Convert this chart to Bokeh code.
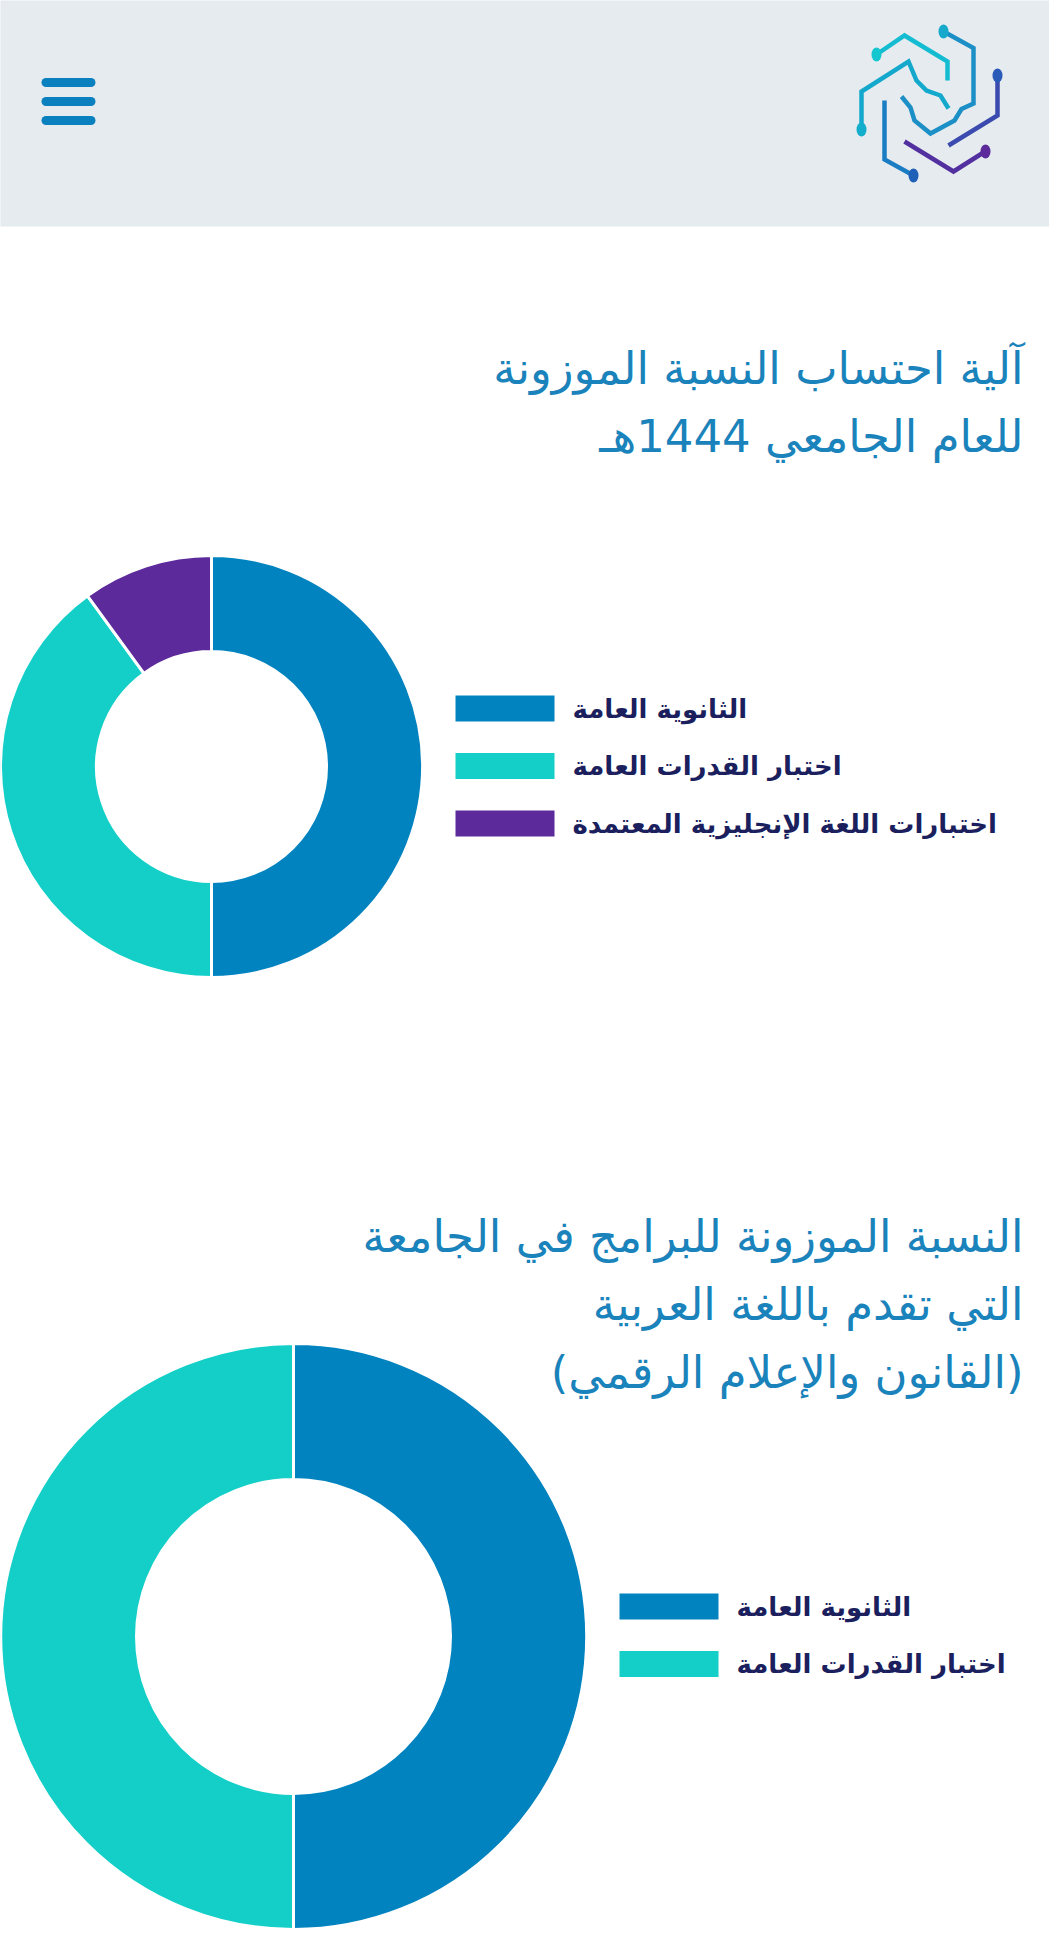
import numpy as np
from bokeh.plotting import figure
from bokeh.models import Range1d, ColumnDataSource
from bokeh.embed import file_html
from bokeh.resources import INLINE
from bokeh.core.properties import value

W, H = 1049, 1944

# ---------------- data ----------------
title1 = ["آلية احتساب النسبة الموزونة", "للعام الجامعي 1444هـ"]
labels1 = ["الثانوية العامة", "اختبار القدرات العامة", "اختبارات اللغة الإنجليزية المعتمدة"]
values1 = [50, 40, 10]

title2 = ["النسبة الموزونة للبرامج في الجامعة", "التي تقدم باللغة العربية", "(القانون والإعلام الرقمي)"]
labels2 = ["الثانوية العامة", "اختبار القدرات العامة"]
values2 = [50, 50]

palette = ["#0083bf", "#13cfc8", "#5c2a9b"]

# ---------------- style / layout ----------------
TITLE_COLOR = "#1a83bb"
LABEL_COLOR = "#1b1f5e"
HEADER_BG = "#e5ebee"
FONT = "DejaVu Sans"


def sy(y):
    return H - y


p = figure(width=W, height=H, x_range=Range1d(0, W), y_range=Range1d(0, H),
           output_backend="svg", toolbar_location=None, min_border=0,
           background_fill_color="#ffffff", border_fill_color="#ffffff")
p.axis.visible = False
p.grid.visible = False
p.outline_line_color = None

# header band
p.quad(left=[-5], right=[W + 5], bottom=[sy(226)], top=[H + 5], fill_color=HEADER_BG, line_color=None)

# hamburger icon
p.multi_line(xs=[[45.5, 90.5]] * 3, ys=[[sy(yc), sy(yc)] for yc in [82, 101, 120]],
             line_color="#0a80bf", line_width=9, line_cap="round")

# logo (decorative circuit mark)
logo_paths = [
    ([876, 904, 947, 947], [54, 35, 61, 80], "#13bcd0"),
    ([943, 973, 973, 961, 954, 930, 914, 910, 901], [31, 47.5, 103, 108.5, 120, 133, 120, 107, 96], "#1c8fc6"),
    ([861, 861, 908, 916, 926, 940, 948], [129, 91, 61, 80, 90, 95, 108], "#14a9cc"),
    ([997, 997, 948], [75, 115, 145], "#3b4aae"),
    ([884, 884, 913], [100, 159, 175], "#1a7cc2"),
    ([904, 953, 983], [141, 171, 152], "#5330a0"),
]
p.multi_line(xs=[pp[0] for pp in logo_paths], ys=[[sy(v) for v in pp[1]] for pp in logo_paths],
             line_color=[pp[2] for pp in logo_paths], line_width=4.5, line_join="miter")
dots_x = [876, 943, 861, 997, 913, 985]
dots_y = [54, 31, 129, 75, 175, 151]
dots_c = ["#13c6cf", "#16a9cc", "#14aecd", "#2a5ab8", "#1e5fb8", "#5c2a9b"]
p.ellipse(x=dots_x, y=[sy(v) for v in dots_y], width=10, height=14, fill_color=dots_c, line_color=None)


def donut(cx, cy, r_in, r_out, vals, labels, title_lines, title_y0, legend_y0):
    vals = np.asarray(vals, dtype=float)
    frac = vals / vals.sum()
    ends = np.cumsum(frac)
    starts = ends - frac
    start_ang = np.pi / 2 - 2 * np.pi * starts
    end_ang = np.pi / 2 - 2 * np.pi * ends
    cols = palette[:len(vals)]
    src = ColumnDataSource(dict(start=start_ang, end=end_ang, color=cols))
    p.annular_wedge(x=cx, y=sy(cy), inner_radius=r_in, outer_radius=r_out,
                    start_angle="start", end_angle="end", direction="clock",
                    fill_color="color", line_color="white", line_width=3, source=src)
    # legend
    n = len(labels)
    ys = [legend_y0 + 57.5 * i for i in range(n)]
    sw_left = cx + r_out + 33
    p.quad(left=[sw_left] * n, right=[sw_left + 99] * n,
           bottom=[sy(y + 13) for y in ys], top=[sy(y - 13) for y in ys],
           fill_color=cols, line_color=None)
    p.text(x=[sw_left + 117] * n, y=[sy(y) for y in ys], text=labels,
           text_font=value(FONT), text_font_size="26px", text_font_style="bold",
           text_color=LABEL_COLOR, text_align="left", text_baseline="middle")
    # title
    tys = [title_y0 + 68 * i for i in range(len(title_lines))]
    p.text(x=[1023] * len(title_lines), y=[sy(y) for y in tys], text=title_lines,
           text_font=value(FONT), text_font_size="45px",
           text_color=TITLE_COLOR, text_align="right", text_baseline="middle")


donut(211, 766, 115, 211, values1, labels1, title1, 368, 708)
donut(293, 1636, 157, 293, values2, labels2, title2, 1236, 1606)

open("out.html", "w").write(file_html(p, INLINE))
